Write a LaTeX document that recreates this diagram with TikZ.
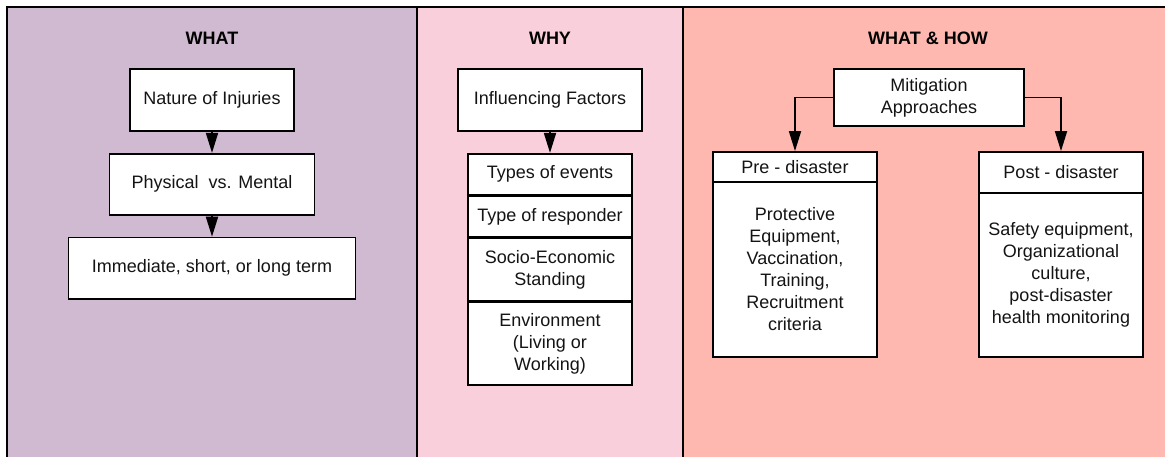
\documentclass[tikz,border=0pt]{standalone}
\usepackage{fontspec}
\setmainfont{Liberation Sans}
\usetikzlibrary{arrows.meta, positioning}

\definecolor{whatbg}{HTML}{D0BAD1}
\definecolor{whybg}{HTML}{F8CFDA}
\definecolor{howbg}{HTML}{FEB8B0}

\begin{document}
\begin{tikzpicture}[x=1pt, y=-1pt, node distance=21pt,
    font=\fontsize{18}{22}\selectfont,
    panel/.style={draw=black, line width=2.2pt},
    title/.style={font=\fontsize{18}{22}\selectfont\bfseries},
    block/.style={rectangle, draw, fill=white, line width=1.8pt, align=center, inner sep=0pt, minimum height=61pt, text=black!92},
    factor/.style={block, minimum width=164pt},
    arrow/.style={line width=1.8pt, -{Triangle[length=20pt, width=12pt]}}]

    \useasboundingbox (0,0) rectangle (1165,457);
    \clip (0,0) rectangle (1165,457);
    \fill[white] (0,0) rectangle (1165,457);

    % three columns
    \draw[panel, fill=whatbg] (7,7) rectangle (417,470);
    \draw[panel, fill=whybg] (417,7) rectangle (683,470);
    \draw[panel, fill=howbg] (683,7) rectangle (1180,470);

    % WHAT
    \node[title] (whathead) at (212,38) {WHAT};
    \node[block, minimum width=164pt, minimum height=62pt] (nature) at (212,100) {Nature of Injuries};
    \node[block, minimum width=205pt, below=of nature] (physical) {Physical\ \ vs. Mental};
    \node[block, minimum width=287pt, below=of physical] (timing) {Immediate, short, or long term};

    \draw[arrow] (nature) -- (physical);
    \draw[arrow] (physical) -- (timing);

    % WHY
    \node[title] (whyhead) at (550,38) {WHY};
    \node[block, minimum width=184pt, minimum height=62pt] (factors) at (550,100) {Influencing Factors};
    \node[factor, minimum height=41pt, below=of factors] (events) {Types of events};
    \node[factor, minimum height=40pt, below=0pt of events] (responder) {Type of responder};
    \node[factor, minimum height=62pt, below=0pt of responder] (socio) {Socio-Economic\\Standing};
    \node[factor, minimum height=83pt, below=0pt of socio] (environ) {Environment\\(Living or\\Working)};

    \draw[arrow] (factors) -- (events);

    % WHAT & HOW
    \node[title] (howhead) at (928,38) {WHAT \& HOW};
    \node[block, minimum width=190pt, minimum height=57pt] (mitigation) at (929,97.5) {Mitigation\\Approaches};

    \node[factor, minimum height=30pt] (pre) at (795,167) {Pre - disaster};
    \node[factor, minimum height=175pt, below=-1.8pt of pre] (prebody)
        {Protective\\Equipment,\\Vaccination,\\Training,\\Recruitment\\criteria};

    \node[factor, minimum height=41pt] (post) at (1061,172.5) {Post - disaster};
    \node[factor, minimum height=164pt, below=-1.8pt of post] (postbody)
        {Safety equipment,\\Organizational\\culture,\\post-disaster\\health monitoring};

    \draw[arrow] (mitigation.west) -| (pre.north);
    \draw[arrow] (mitigation.east) -| (post.north);
\end{tikzpicture}
\end{document}
